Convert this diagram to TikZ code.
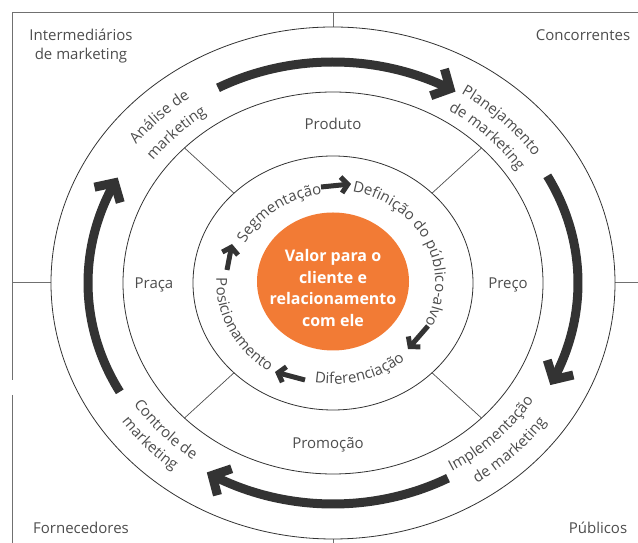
\documentclass[tikz,border=0pt]{standalone}
\usepackage{fontspec}
\setmainfont{Open Sans}
\usetikzlibrary{arrows.meta,bending,decorations.text,calc}
\definecolor{txt}{HTML}{4D4D4D}
\definecolor{orng}{HTML}{F27B35}
\definecolor{arr}{HTML}{333333}
\definecolor{frm}{HTML}{707070}
\newcommand\lblf{\fontsize{15}{18}\selectfont\color{txt}}
\begin{document}
\begin{tikzpicture}[x=1pt,y=1pt,
  ring/.style={draw=black!80, line width=0.8pt},
  divline/.style={draw=black!70, line width=0.7pt},
  framel/.style={draw=frm, line width=1pt},
  bigarrow/.style={draw=arr, line width=9pt, -{Straight Barb[length=14pt,width=30pt]}},
  smallarrow/.style={draw=arr, line width=5pt, -{Straight Barb[length=6.5pt,width=16pt]}},
  lbl/.style={font=\fontsize{15}{19}\selectfont, text=txt, inner sep=0pt},
  curv/.style={decorate, decoration={text along path, text={|\lblf|#1}, text align=center}}
]
\useasboundingbox (0,0) rectangle (638,543);
% frame
\draw[framel] (638,530) -- (12,530) -- (12,163);
\draw[framel] (12,148) -- (12,0);
\node[lbl, align=center] (interm) at (81,497) {Intermediários\\de marketing};
\node[lbl] (conc) at (583,508) {Concorrentes};
\node[lbl] (forn) at (81,15) {Fornecedores};
\node[lbl] (publ) at (598,15) {Públicos};
\begin{scope}[shift={(333,260)}]
 % dividers of the frame
 \draw[framel] (0,256) -- (0,270);
 \draw[framel] (-282,0) -- (-321,0);
 \draw[framel] (282,0) -- (305,0);
 \draw[framel] (0,-256) -- (0,-260);
 % rings
 \draw[ring] (0,0) ellipse [x radius=282, y radius=256];
 \draw[ring] (0,0) ellipse [x radius=210, y radius=191];
 \draw[ring] (0,0) ellipse [x radius=140, y radius=127];
 \foreach \a in {45,135,225,315}
   \draw[divline] (\a:140 and 127) -- (\a:210 and 191);
 % centre
 \fill[orng] (0,1.5) ellipse [x radius=76, y radius=69];
 \node[font=\bfseries\fontsize{16}{21.5}\selectfont, text=white, align=center] (valor) at (0,-5) {Valor para o\\cliente e\\relacionamento\\com ele};
 % 4 P
 \node[lbl] (prod) at (0,159) {Produto};
 \node[lbl] (preco) at (175,-2) {Preço};
 \node[lbl] (promo) at (-5,-162) {Promoção};
 \node[lbl] (praca) at (-179,-2) {Praça};
 % outer arrows
 \draw[bigarrow] (118:245 and 221) arc[start angle=118, end angle=60, x radius=245, y radius=221];
 \draw[bigarrow] (29:245 and 221) arc[start angle=29, end angle=-27.5, x radius=245, y radius=221];
 \draw[bigarrow] (-62:245 and 221) arc[start angle=-62, end angle=-121, x radius=245, y radius=221];
 \draw[bigarrow] (209.5:245 and 221) arc[start angle=209.5, end angle=151.5, x radius=245, y radius=221];
 % outer curved labels
 \path[curv={Análise de}] (180:248.6 and 226) arc[start angle=180, end angle=90, x radius=248.6, y radius=226];
 \path[curv={marketing}] (180:224.4 and 204) arc[start angle=180, end angle=90, x radius=224.4, y radius=204];
 \path[curv={Planejamento}] (95:244.2 and 222) arc[start angle=95, end angle=-5, x radius=244.2, y radius=222];
 \path[curv={de marketing}] (90:222.2 and 202) arc[start angle=90, end angle=0, x radius=222.2, y radius=202];
 \path[curv={Implementação}] (-95:238.7 and 217) arc[start angle=-95, end angle=5, x radius=238.7, y radius=217];
 \path[curv={de marketing}] (-90:262.9 and 239) arc[start angle=-90, end angle=0, x radius=262.9, y radius=239];
 \path[curv={Controle de}] (183:239.8 and 218) arc[start angle=183, end angle=263, x radius=239.8, y radius=218];
 \path[curv={marketing}] (183:260.7 and 237) arc[start angle=183, end angle=263, x radius=260.7, y radius=237];
 % inner curved labels
 \path[curv={Segmentação}] (176:97.9 and 89) arc[start angle=176, end angle=76, x radius=97.9, y radius=89];
 \path[curv={Definição do público-alvo}] (96:102.3 and 93) arc[start angle=96, end angle=-44, x radius=102.3, y radius=93];
 \path[curv={Diferenciação}] (-124:111.1 and 101) arc[start angle=-124, end angle=-24, x radius=111.1, y radius=101];
 \path[curv={Posicionamento}] (151:116.6 and 106) arc[start angle=151, end angle=261, x radius=116.6, y radius=106];
 % inner arrows
 \coordinate (i1a) at (-12,96);  \coordinate (i1b) at (18,99);
 \coordinate (i2a) at (95,-43);  \coordinate (i2b) at (75,-66);
 \coordinate (i3a) at (-28,-97); \coordinate (i3b) at (-58,-89);
 \coordinate (i4a) at (-106,13); \coordinate (i4b) at (-101,39);
 \draw[smallarrow] (i1a) -- (i1b);
 \draw[smallarrow] (i2a) -- (i2b);
 \draw[smallarrow] (i3a) -- (i3b);
 \draw[smallarrow] (i4a) -- (i4b);
\end{scope}
\end{tikzpicture}
\end{document}
